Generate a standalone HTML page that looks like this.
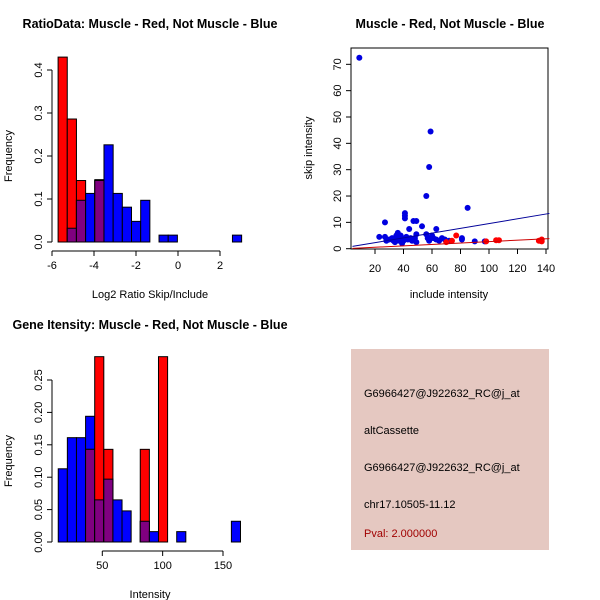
<!DOCTYPE html>
<html><head><meta charset="utf-8"><style>
body{margin:0;background:#fff}
svg{display:block;font-family:"Liberation Sans",sans-serif}
</style></head><body>
<svg id="s" width="600" height="600" xmlns="http://www.w3.org/2000/svg">
<rect width="600" height="600" fill="#fff"/>
<text x="150" y="28" text-anchor="middle" font-weight="bold" font-size="12.5">RatioData: Muscle - Red, Not Muscle - Blue</text>
<text x="450" y="28" text-anchor="middle" font-weight="bold" font-size="12.5">Muscle - Red, Not Muscle - Blue</text>
<text x="150" y="329" text-anchor="middle" font-weight="bold" font-size="12.5">Gene Itensity: Muscle - Red, Not Muscle - Blue</text>
<g id="p1"></g>
<g id="p2"></g>
<g id="p3"></g>
<g>
<rect x="351" y="349" width="198" height="201" fill="#e5c8c1"/>
<text x="364" y="397" font-size="11">G6966427@J922632_RC@j_at</text>
<text x="364" y="434" font-size="11">altCassette</text>
<text x="364" y="471" font-size="11">G6966427@J922632_RC@j_at</text>
<text x="364" y="508" font-size="11">chr17.10505-11.12</text>
<text x="364" y="537" font-size="11" fill="#a00000">Pval: 2.000000</text>
</g>
</svg>
<script>
// Panel 1 data
const ratioBinStart = -5.71, ratioBinWidth = 0.437;
const ratioRed  = [0.43,0.286,0.143,0,0.143,0,0,0,0,0,0,0,0,0,0,0,0,0,0,0];
const ratioBlue = [0,0.032,0.097,0.113,0.145,0.226,0.113,0.081,0.048,0.097,0,0.016,0.016,0,0,0,0,0,0,0.016];
const ratioXTicks = [-6,-4,-2,0,2];
const ratioYTicks = [0,0.1,0.2,0.3,0.4];
// Panel 2 data
const blueInc  = [9,59,58,56,85,27,41,41,41,47,49,53,44,63,56,49,36,23,27,28,32,33,35,36,37,38,39,40,42,43,45,46,48,49,57,58,60,61,63,65,67,69,72,81,81,90,97,30,34,39];
const blueSkip = [72.5,44.5,31,20,15.5,10,13.5,12.5,11.5,10.5,10.5,8.5,7.5,7.5,5.5,5.5,6,4.5,4.5,3,4,3,5,4,3,5,4,3,4.5,3.5,4,3,4,2.5,4,3,5,4,3.5,3,4,3.5,3,4,3.5,2.8,2.8,3.5,2.5,2];
const redInc   = [77,74,70,105,107,135,136,137,137,98];
const redSkip  = [5,3,2.5,3.2,3.2,3,3,3.5,2.8,2.8];
const blueFit = [0.5,0.0905]; // intercept, slope
const redFit  = [0,0.027];
const scXTicks = [20,40,60,80,100,120,140];
const scYTicks = [0,10,20,30,40,50,60,70];
// Panel 3 data
const intBinStart = 13.5, intBinWidth = 7.55;
const intBlue = [0.113,0.161,0.161,0.194,0.065,0.097,0.065,0.048,0,0.032,0.016,0,0,0.016,0,0,0,0,0,0.032];
const intRed  = [0,0,0,0.143,0.286,0.143,0,0,0,0.143,0,0.286,0,0,0,0,0,0,0,0];
const intXTicks = [50,100,150];
const intYTicks = [0,0.05,0.1,0.15,0.2,0.25];

const NS="http://www.w3.org/2000/svg";
function mk(parent,tag,attrs,txt){const e=document.createElementNS(NS,tag);for(const k in attrs)e.setAttribute(k,attrs[k]);if(txt!==undefined)e.textContent=txt;parent.appendChild(e);return e;}

function hist(g,x,y,start,w,blue,red,xt,yt,fmt,xlab,xAxisY,xr){
  const base=y(0);
  for(let i=0;i<blue.length;i++){
    const x0=x(start+i*w),x1=x(start+(i+1)*w);
    if(blue[i]>0){const r=mk(g,'rect',{x:x0,y:y(blue[i]),width:x1-x0,height:base-y(blue[i]),fill:'#0000ff',stroke:'#000','stroke-width':1});
      
      }
    if(red[i]>0){const r=mk(g,'rect',{x:x0,y:y(red[i]),width:x1-x0,height:base-y(red[i]),fill:'#ff0000',stroke:'#000','stroke-width':1});
      
      }
    const m=Math.min(blue[i],red[i]);
    if(m>0){const r=mk(g,'rect',{x:x0,y:y(m),width:x1-x0,height:base-y(m),fill:'#800080',stroke:'#000','stroke-width':1});
      
      }
  }
  axes(g,x,y,xt,yt,fmt,xAxisY,52,xr);
  const t=mk(g,'text',{x:150,y:xAxisY+47,'text-anchor':'middle','font-size':11},xlab);
  
  
  const yl=mk(g,'text',{transform:`translate(12,${(y(yt[0])+y(yt[yt.length-1]))/2}) rotate(-90)`,'text-anchor':'middle','font-size':11},'Frequency');
  
  
}
function axes(g,x,y,xt,yt,fmt,xAxisY,yAxisX,xr){
  const xa=xr||[xt[0],xt[xt.length-1]];
  mk(g,'line',{x1:x(xa[0]),x2:x(xa[1]),y1:xAxisY,y2:xAxisY,stroke:'#000'});
  xt.forEach(v=>{mk(g,'line',{x1:x(v),x2:x(v),y1:xAxisY,y2:xAxisY+5,stroke:'#000'});
    const t=mk(g,'text',{x:x(v),y:xAxisY+18,'text-anchor':'middle','font-size':11},v);
    
    });
  mk(g,'line',{x1:yAxisX,x2:yAxisX,y1:y(yt[0]),y2:y(yt[yt.length-1]),stroke:'#000'});
  yt.forEach(v=>{mk(g,'line',{x1:yAxisX-5,x2:yAxisX,y1:y(v),y2:y(v),stroke:'#000'});
    const t=mk(g,'text',{transform:`translate(${yAxisX-10},${y(v)}) rotate(-90)`,'text-anchor':'middle','font-size':11},fmt(v));
    
    });
}
// Panel 1
{const g=document.getElementById('p1');
 const x=v=>52+(v+6)*21, y=v=>242-v*430;
 hist(g,x,y,ratioBinStart,ratioBinWidth,ratioBlue,ratioRed,ratioXTicks,ratioYTicks,v=>v.toFixed(1),'Log2 Ratio Skip/Include',251);}
// Panel 3
{const g=document.getElementById('p3');
 const x=v=>102.3+(v-50)*1.207, y=v=>542-v*648;
 hist(g,x,y,intBinStart,intBinWidth,intBlue,intRed,intXTicks,intYTicks,v=>v.toFixed(2),'Intensity',551);}
// Panel 2
{const g=document.getElementById('p2');
 const x=v=>375+(v-20)*1.425, y=v=>248.7-v*2.634;
 const xmin=4.2,xmax=142.4;
 mk(g,'rect',{x:351,y:48,width:197,height:201,fill:'none',stroke:'#000'});
 for(let i=0;i<blueInc.length;i++){const c=mk(g,'circle',{cx:x(blueInc[i]),cy:y(blueSkip[i]),r:3,fill:'#0000e0'});
   
   }
 for(let i=0;i<redInc.length;i++){const c=mk(g,'circle',{cx:x(redInc[i]),cy:y(redSkip[i]),r:3,fill:'#ff0000'});
   
   }
 const bl=mk(g,'line',{x1:x(xmin),y1:y(blueFit[0]+blueFit[1]*xmin),x2:x(xmax),y2:y(blueFit[0]+blueFit[1]*xmax),stroke:'#000099'});
 
 
 const rl=mk(g,'line',{x1:x(xmin),y1:y(redFit[0]+redFit[1]*xmin),x2:x(xmax),y2:y(redFit[0]+redFit[1]*xmax),stroke:'#cc0000'});
 
 
 scXTicks.forEach(v=>{mk(g,'line',{x1:x(v),x2:x(v),y1:249,y2:254,stroke:'#000'});
   const t=mk(g,'text',{x:x(v),y:272,'text-anchor':'middle','font-size':11},v);
   
   });
 scYTicks.forEach(v=>{mk(g,'line',{x1:346,x2:351,y1:y(v),y2:y(v),stroke:'#000'});
   const t=mk(g,'text',{transform:`translate(341,${y(v)}) rotate(-90)`,'text-anchor':'middle','font-size':11},v);
   
   });
 const xt=mk(g,'text',{x:449,y:298,'text-anchor':'middle','font-size':11},'include intensity');
 
 
 const yt=mk(g,'text',{transform:'translate(312,148) rotate(-90)','text-anchor':'middle','font-size':11},'skip intensity');
 
 }
</script>
</body></html>
